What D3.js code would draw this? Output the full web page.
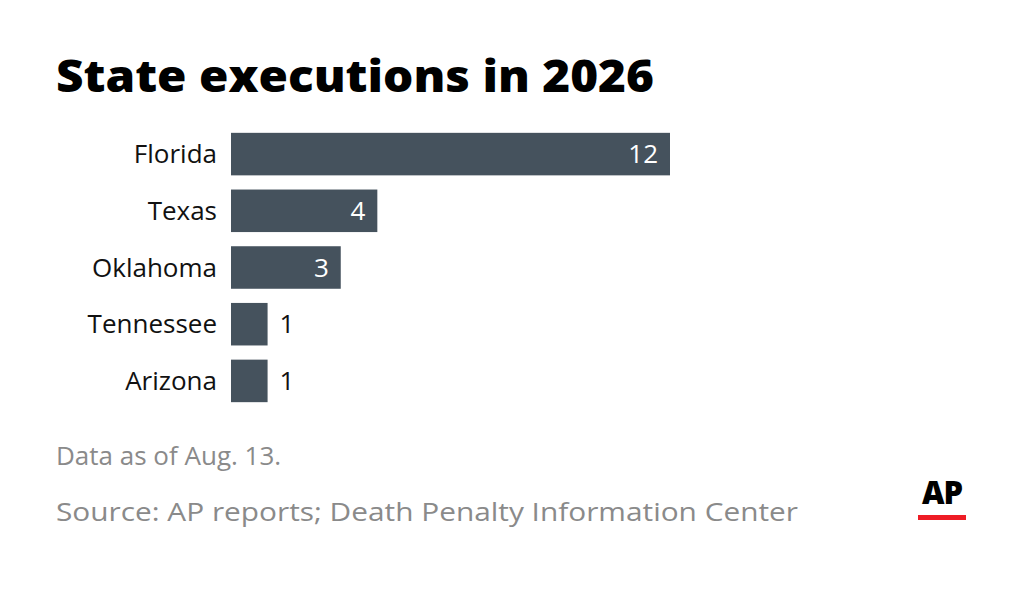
<!DOCTYPE html>
<html><head><meta charset="utf-8">
<script src="https://cdn.jsdelivr.net/npm/d3@7"></script>
<style>body{margin:0;background:#fff;}svg{display:block;font-family:"Open Sans","Noto Sans",sans-serif;}</style>
</head><body>
<svg id="c" width="1024" height="600"></svg>
<script>
const states = ["Florida","Texas","Oklahoma","Tennessee","Arizona"];
const executions = [12,4,3,1,1];
const title = "State executions in 2026";
const note = "Data as of Aug. 13.";
const source = "Source: AP reports; Death Penalty Information Center";

const svg = d3.select("#c");
svg.append("text").attr("x",56).attr("y",92).attr("font-size",45).attr("font-weight",800)
  .attr("fill","#000").attr("textLength",598).attr("lengthAdjust","spacingAndGlyphs").text(title);

const x = d3.scaleLinear().domain([0,12]).range([231,670]);
const y = d3.scaleBand().domain(states).range([130,405]).paddingInner(0.25).paddingOuter(0.05);

const g = svg.append("g");
const data = states.map((s,i)=>({s,v:executions[i]}));
g.selectAll("rect").data(data).join("rect")
  .attr("x",x(0)).attr("y",d=>y(d.s)).attr("width",d=>x(d.v)-x(0)).attr("height",y.bandwidth())
  .attr("fill","#45525d");
g.selectAll("text.lab").data(data).join("text").attr("class","lab")
  .attr("x",217).attr("y",d=>y(d.s)+y.bandwidth()/2).attr("dy","0.35em")
  .attr("text-anchor","end").attr("font-size",26).attr("fill","#111").text(d=>d.s);
g.selectAll("text.val").data(data).join("text").attr("class","val")
  .attr("x",d=>d.v>=3?x(d.v)-12:x(d.v)+12).attr("y",d=>y(d.s)+y.bandwidth()/2).attr("dy","0.35em")
  .attr("text-anchor",d=>d.v>=3?"end":"start").attr("font-size",26)
  .attr("fill",d=>d.v>=3?"#fff":"#111").text(d=>d.v);

svg.append("text").attr("x",56).attr("y",465).attr("font-size",26).attr("fill","#8a8a8a").text(note);
svg.append("text").attr("x",56).attr("y",521).attr("font-size",26).attr("fill","#8a8a8a")
  .attr("textLength",742).attr("lengthAdjust","spacingAndGlyphs").text(source);
svg.append("text").attr("x",942).attr("y",504).attr("text-anchor","middle").attr("font-size",31)
  .attr("font-weight",800).attr("fill","#000").attr("letter-spacing","-1").text("AP");
svg.append("rect").attr("x",918).attr("y",515).attr("width",48).attr("height",5).attr("fill","#ee1c25");
</script>
</body></html>
